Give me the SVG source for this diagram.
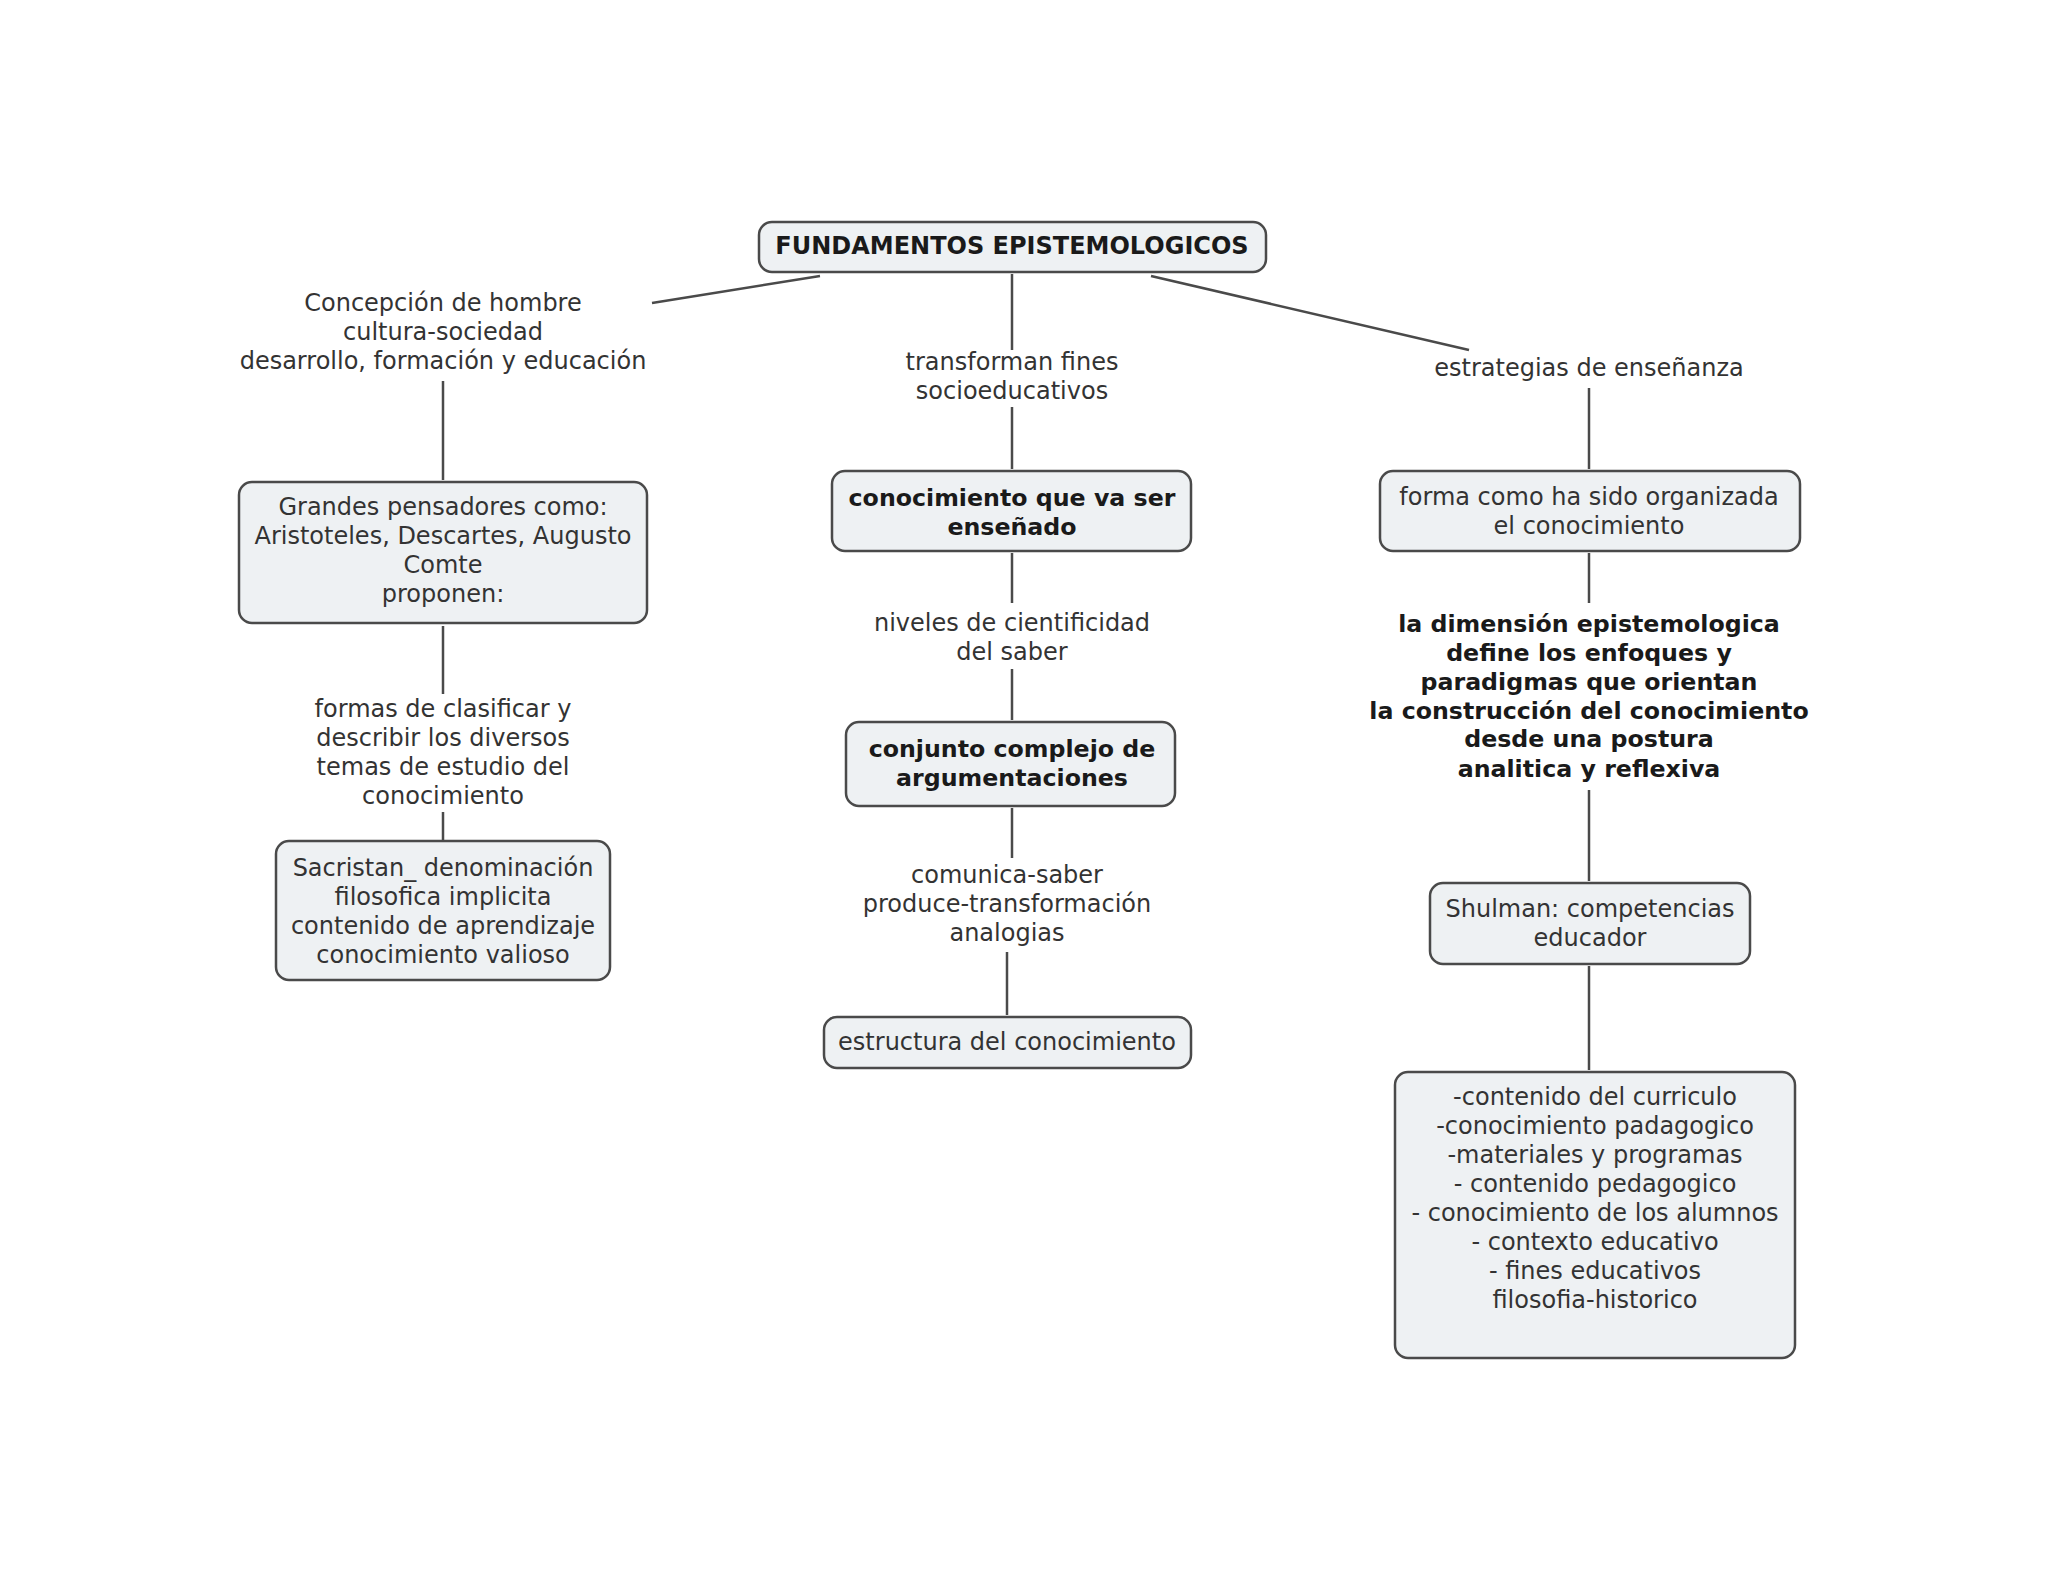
<svg xmlns="http://www.w3.org/2000/svg" width="2048" height="1582" viewBox="0 0 2048 1582">
<style>
.box{fill:#eef1f3;stroke:#4a4a4a;stroke-width:2.5}
.t{font-family:"DejaVu Sans","Verdana",sans-serif;font-size:24px;fill:#333;text-anchor:middle}
.b{font-family:"DejaVu Sans","Verdana",sans-serif;font-size:23.7px;font-weight:bold;fill:#1a1a1a;text-anchor:middle}
.ln{stroke:#4a4a4a;stroke-width:2.5;fill:none}
</style>
<rect width="2048" height="1582" fill="#ffffff"/>
<g id="connectors">
<line class="ln" x1="820" y1="276" x2="652" y2="303"/>
<line class="ln" x1="443" y1="381" x2="443" y2="480"/>
<line class="ln" x1="443" y1="626" x2="443" y2="694"/>
<line class="ln" x1="443" y1="812" x2="443" y2="840"/>
<line class="ln" x1="1012" y1="274" x2="1012" y2="350"/>
<line class="ln" x1="1012" y1="407" x2="1012" y2="469"/>
<line class="ln" x1="1012" y1="553" x2="1012" y2="603"/>
<line class="ln" x1="1012" y1="669" x2="1012" y2="720"/>
<line class="ln" x1="1012" y1="808" x2="1012" y2="858"/>
<line class="ln" x1="1007" y1="952" x2="1007" y2="1015"/>
<line class="ln" x1="1151" y1="276" x2="1469" y2="350"/>
<line class="ln" x1="1589" y1="388" x2="1589" y2="469"/>
<line class="ln" x1="1589" y1="553" x2="1589" y2="603"/>
<line class="ln" x1="1589" y1="790" x2="1589" y2="881"/>
<line class="ln" x1="1589" y1="966" x2="1589" y2="1070"/>
</g>
<g id="root">
<rect class="box" x="759" y="222" width="507" height="50" rx="13"/>
<text class="b" x="1012" y="254" style="font-size:24px">FUNDAMENTOS EPISTEMOLOGICOS</text>
</g>
<g id="lbl-concepcion">
<text class="t" x="443" y="311">Concepción de hombre</text>
<text class="t" x="443" y="340">cultura-sociedad</text>
<text class="t" x="443" y="369">desarrollo, formación y educación</text>
</g>
<g id="grandes">
<rect class="box" x="239" y="482" width="408" height="141" rx="13"/>
<text class="t" x="443" y="515">Grandes pensadores como:</text>
<text class="t" x="443" y="544">Aristoteles, Descartes, Augusto</text>
<text class="t" x="443" y="573">Comte</text>
<text class="t" x="443" y="602">proponen:</text>
</g>
<g id="lbl-formas">
<text class="t" x="443" y="717">formas de clasificar y</text>
<text class="t" x="443" y="746">describir los diversos</text>
<text class="t" x="443" y="775">temas de estudio del</text>
<text class="t" x="443" y="804">conocimiento</text>
</g>
<g id="sacristan">
<rect class="box" x="276" y="841" width="334" height="139" rx="13"/>
<text class="t" x="443" y="876">Sacristan_ denominación</text>
<text class="t" x="443" y="905">filosofica implicita</text>
<text class="t" x="443" y="934">contenido de aprendizaje</text>
<text class="t" x="443" y="963">conocimiento valioso</text>
</g>
<g id="lbl-transforman">
<text class="t" x="1012" y="370">transforman fines</text>
<text class="t" x="1012" y="399">socioeducativos</text>
</g>
<g id="conocimiento">
<rect class="box" x="832" y="471" width="359" height="80" rx="13"/>
<text class="b" x="1012" y="506">conocimiento que va ser</text>
<text class="b" x="1012" y="535">enseñado</text>
</g>
<g id="lbl-niveles">
<text class="t" x="1012" y="631">niveles de cientificidad</text>
<text class="t" x="1012" y="660">del saber</text>
</g>
<g id="conjunto">
<rect class="box" x="846" y="722" width="329" height="84" rx="13"/>
<text class="b" x="1012" y="757">conjunto complejo de</text>
<text class="b" x="1012" y="786">argumentaciones</text>
</g>
<g id="lbl-comunica">
<text class="t" x="1007" y="883">comunica-saber</text>
<text class="t" x="1007" y="912">produce-transformación</text>
<text class="t" x="1007" y="941">analogias</text>
</g>
<g id="estructura">
<rect class="box" x="824" y="1017" width="367" height="51" rx="13"/>
<text class="t" x="1007" y="1050">estructura del conocimiento</text>
</g>
<g id="lbl-estrategias">
<text class="t" x="1589" y="376">estrategias de enseñanza</text>
</g>
<g id="forma">
<rect class="box" x="1380" y="471" width="420" height="80" rx="13"/>
<text class="t" x="1589" y="505">forma como ha sido organizada</text>
<text class="t" x="1589" y="534">el conocimiento</text>
</g>
<g id="lbl-dimension">
<text class="b" x="1589" y="632">la dimensión epistemologica</text>
<text class="b" x="1589" y="661">define los enfoques y</text>
<text class="b" x="1589" y="690">paradigmas que orientan</text>
<text class="b" x="1589" y="719">la construcción del conocimiento</text>
<text class="b" x="1589" y="747">desde una postura</text>
<text class="b" x="1589" y="777">analitica y reflexiva</text>
</g>
<g id="shulman">
<rect class="box" x="1430" y="883" width="320" height="81" rx="13"/>
<text class="t" x="1590" y="917">Shulman: competencias</text>
<text class="t" x="1590" y="946">educador</text>
</g>
<g id="lista">
<rect class="box" x="1395" y="1072" width="400" height="286" rx="13"/>
<text class="t" x="1595" y="1105">-contenido del curriculo</text>
<text class="t" x="1595" y="1134">-conocimiento padagogico</text>
<text class="t" x="1595" y="1163">-materiales y programas</text>
<text class="t" x="1595" y="1192">- contenido pedagogico</text>
<text class="t" x="1595" y="1221">- conocimiento de los alumnos</text>
<text class="t" x="1595" y="1250">- contexto educativo</text>
<text class="t" x="1595" y="1279">- fines educativos</text>
<text class="t" x="1595" y="1308">filosofia-historico</text>
</g>
</svg>
